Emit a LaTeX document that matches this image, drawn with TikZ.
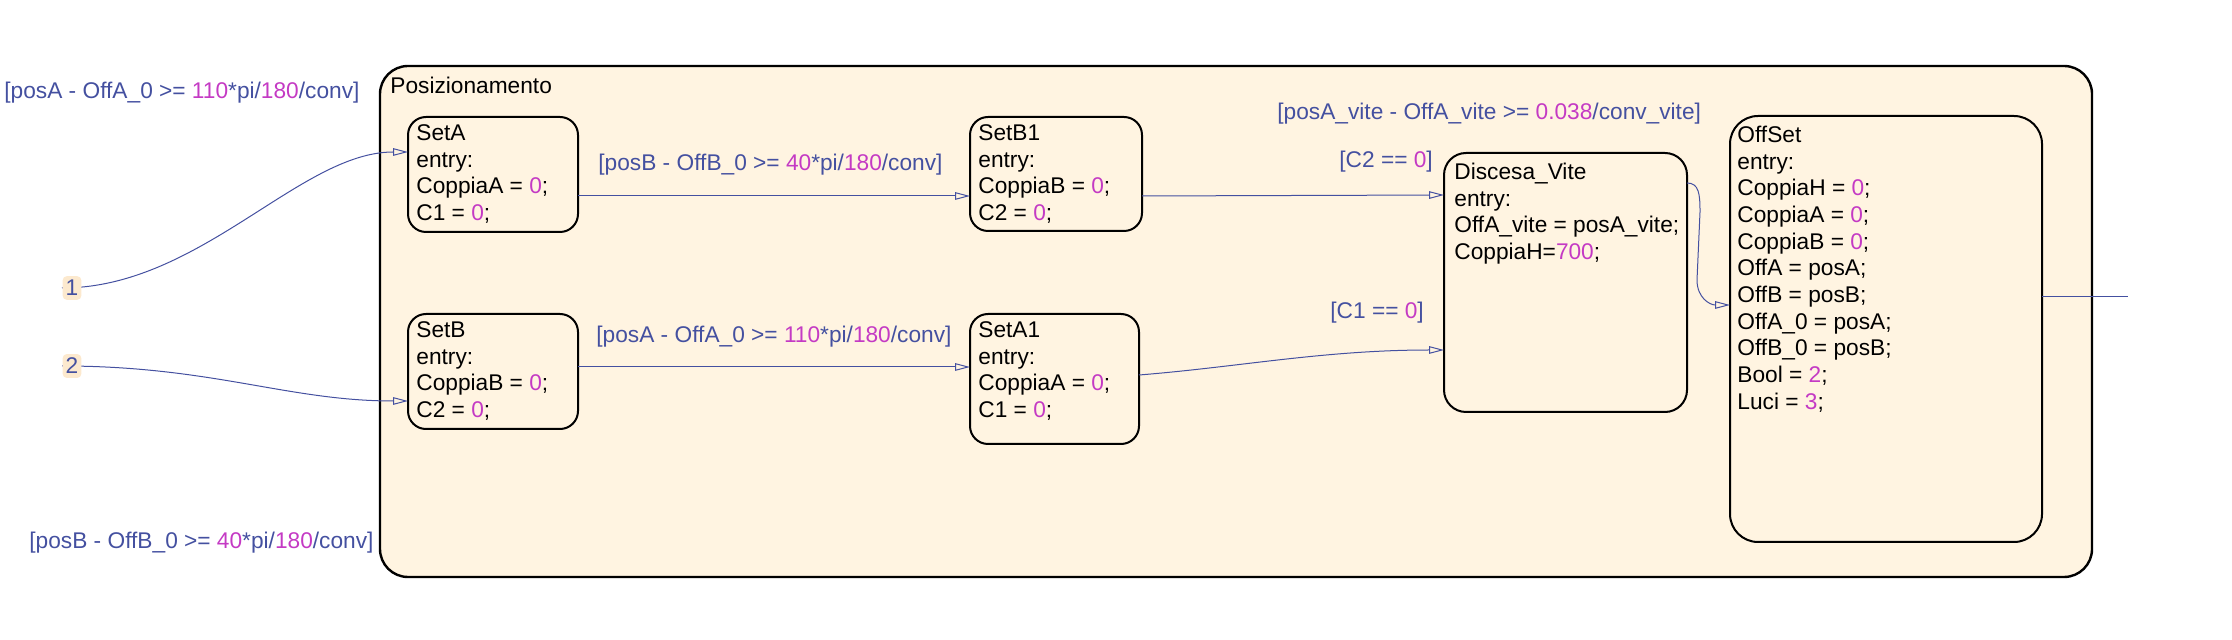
\documentclass[tikz,border=0pt]{standalone}
\usepackage{fontspec}
\setmainfont{Liberation Sans}
\usetikzlibrary{arrows.meta,calc}
\definecolor{cream}{HTML}{FFF4E1}
\definecolor{tblue}{HTML}{4450A0}
\definecolor{nmag}{HTML}{C43AC4}
\definecolor{lblbg}{HTML}{FCE9CE}
\newcommand\nm[1]{\textcolor{nmag}{#1}}
\newcommand\fs{\fontsize{11.35}{13.35}\selectfont}
\begin{document}
\begin{tikzpicture}[x=0.5pt,y=-0.5pt,
  outerbox/.style={draw=black, line width=1.2pt, fill=cream, rounded corners=14pt, inner sep=0pt, outer sep=0pt, anchor=north west},
  statebox/.style={draw=black, line width=1pt, fill=cream, rounded corners=9pt, inner sep=0pt, outer sep=0pt, anchor=north west},
  stext/.style={anchor=north west, align=left, inner sep=0pt, font=\fs, text=black},
  tlabel/.style={anchor=west, inner sep=0pt, text=tblue, font=\fs},
  trans/.style={draw=tblue, line width=0.5pt, -{Triangle[open, length=7.5pt, width=3.8pt]}},
  plain/.style={draw=tblue, line width=0.5pt},
  ordlbl/.style={fill=lblbg, text=tblue, rounded corners=2pt, inner xsep=1.5pt, inner ysep=2pt, font=\fs}]
\useasboundingbox (0,0) rectangle (2232,640);

% superstate
\node[outerbox, minimum width=856pt, minimum height=255.5pt] (Pos) at (380,66) {};
\node[anchor=west, inner sep=0pt, font=\fs] (PosT) at (390,85) {Posizionamento};

% states
\node[statebox, minimum width=85pt, minimum height=57.5pt] (SetA) at (408,117) {};
\node[statebox, minimum width=85pt, minimum height=57.5pt] (SetB) at (408,314) {};
\node[statebox, minimum width=86pt, minimum height=57pt] (SetB1) at (970,117) {};
\node[statebox, minimum width=84.5pt, minimum height=65pt] (SetA1) at (970,314) {};
\node[statebox, rounded corners=11pt, minimum width=121.5pt, minimum height=129.5pt] (Disc) at (1444,153) {};
\node[statebox, rounded corners=14pt, minimum width=156pt, minimum height=213pt] (OffSet) at (1730,116) {};

\node[stext] (SetAT) at ($(SetA.north west)+(8,5)$) {\rule{0pt}{9pt}SetA\\entry:\\CoppiaA = \nm{0};\\C1 = \nm{0};};
\node[stext] (SetBT) at ($(SetB.north west)+(8,5)$) {\rule{0pt}{9pt}SetB\\entry:\\CoppiaB = \nm{0};\\C2 = \nm{0};};
\node[stext] (SetB1T) at ($(SetB1.north west)+(8,5)$) {\rule{0pt}{9pt}SetB1\\entry:\\CoppiaB = \nm{0};\\C2 = \nm{0};};
\node[stext] (SetA1T) at ($(SetA1.north west)+(8,5)$) {\rule{0pt}{9pt}SetA1\\entry:\\CoppiaA = \nm{0};\\C1 = \nm{0};};
\node[stext] (DiscT) at ($(Disc.north west)+(10,8)$) {\rule{0pt}{9pt}Discesa\_Vite\\entry:\\OffA\_vite = posA\_vite;\\CoppiaH=\nm{700};};
\node[stext] (OffSetT) at ($(OffSet.north west)+(7,8)$) {\rule{0pt}{9pt}OffSet\\entry:\\CoppiaH = \nm{0};\\CoppiaA = \nm{0};\\CoppiaB = \nm{0};\\OffA = posA;\\OffB = posB;\\OffA\_0 = posA;\\OffB\_0 = posB;\\Bool = \nm{2};\\Luci = \nm{3};};

% connectors
\coordinate (s1) at (62,288);
\coordinate (s2) at (62,366);
\draw[trans] (s1) .. controls +(138,0) and +(-108,0) .. ($(SetA.north west)+(0,35)$);
\draw[trans] (s2) .. controls +(150,0) and +(-120,0) .. ($(SetB.north west)+(0,87)$);
\draw[trans] ($(SetA.north east)+(0,79)$) -- ($(SetB1.north west)+(0,79)$);
\draw[trans] ($(SetB.north east)+(0,53)$) -- ($(SetA1.north west)+(0,53)$);
\draw[trans] ($(SetB1.north east)+(0,79)$) -- ($(Disc.north west)+(0,42)$);
\draw[trans] ($(SetA1.north east)+(0,61)$) .. controls +(100,-8) and +(-120,0) .. ($(Disc.north west)+(0,197)$);
\coordinate (v1) at (1700,212);
\coordinate (v2) at (1697,280);
\draw[trans] ($(Disc.north east)+(0,30)$) .. controls +(12,0) and +(0,-18) .. (v1) -- (v2) .. controls +(0,18) and +(-20,0) .. ($(OffSet.north west)+(0,189)$);
\coordinate (xend) at (2128,297);
\draw[plain] ($(OffSet.north east)+(0,181)$) -- (xend);

% execution order labels
\node[ordlbl] (o1) at (72,288) {1};
\node[ordlbl] (o2) at (72,366) {2};

% transition labels
\node[tlabel] (L0) at (4,93) {[posA - OffA\_0 >= \nm{110}*pi/\nm{180}/conv]};
\node[tlabel] (L1) at (29,543) {[posB - OffB\_0 >= \nm{40}*pi/\nm{180}/conv]};
\node[tlabel] (L2) at (598,165) {[posB - OffB\_0 >= \nm{40}*pi/\nm{180}/conv]};
\node[tlabel] (L3) at (596,337) {[posA - OffA\_0 >= \nm{110}*pi/\nm{180}/conv]};
\node[tlabel] (L4) at (1339,162) {[C2 == \nm{0}]};
\node[tlabel] (L5) at (1330,313) {[C1 == \nm{0}]};
\node[tlabel] (L6) at (1277,114) {[posA\_vite - OffA\_vite >= \nm{0.038}/conv\_vite]};
\end{tikzpicture}
\end{document}
